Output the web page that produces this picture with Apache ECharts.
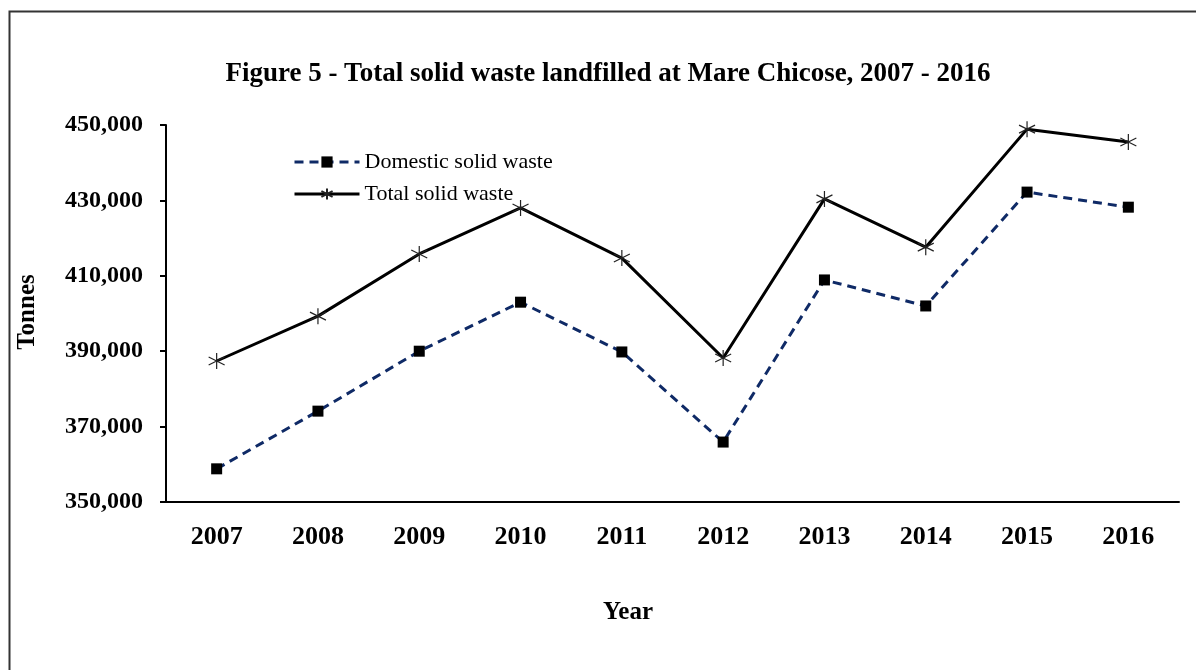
<!DOCTYPE html>
<html>
<head>
<meta charset="utf-8">
<title>Figure 5 - Total solid waste landfilled at Mare Chicose</title>
<script src="https://cdn.jsdelivr.net/npm/echarts@6/dist/echarts.min.js"></script>
<style>
    html, body { margin: 0; padding: 0; background: #fff; }
    #main-chart { width: 1196px; height: 670px; }
</style>
</head>
<body>
<div id="main-chart"></div>
<script>
// Data
const years = ['2007', '2008', '2009', '2010', '2011', '2012', '2013', '2014', '2015', '2016'];
const domesticWaste = [358800, 374100, 390000, 403000, 389800, 365900, 408900, 402000, 432200, 428200];
const totalWaste = [387400, 399300, 415800, 428000, 414700, 388200, 430400, 417600, 448900, 445500];
const yTicks = [350000, 370000, 390000, 410000, 430000, 450000];

const serif = '"Liberation Serif", "DejaVu Serif", serif';
// six-armed asterisk marker
const starPath = 'path://M0,-10L0,10M-8.66,-5L8.66,5M-8.66,5L8.66,-5';

const chartDom = document.getElementById('main-chart');
const myChart = echarts.init(chartDom);

const option = {
    backgroundColor: '#fff',
    animation: false,
    title: {
        text: 'Figure 5 - Total solid waste landfilled at Mare Chicose, 2007 - 2016',
        left: 603,
        top: 56,
        textAlign: 'center',
        textStyle: { fontFamily: serif, fontWeight: 'bold', fontSize: 27, color: '#000' }
    },
    legend: {
        orient: 'vertical',
        left: 288,
        top: 146,
        itemWidth: 65,
        itemHeight: 14,
        itemGap: 10,
        lineStyle: { width: 3 },
        textStyle: { fontFamily: serif, fontSize: 22, color: '#000' },
        data: ['Domestic solid waste', 'Total solid waste']
    },
    grid: { left: 166, right: 17, top: 125, bottom: 168, containLabel: false },
    xAxis: {
        type: 'category',
        data: years,
        boundaryGap: true,
        axisLine: { lineStyle: { color: '#000', width: 2 } },
        axisTick: { alignWithLabel: true, length: 5, lineStyle: { color: '#000', width: 2 } },
        axisLabel: { margin: 22, fontFamily: serif, fontWeight: 'bold', fontSize: 26, color: '#000' }
    },
    yAxis: {
        type: 'value',
        min: 350000,
        max: 450000,
        interval: 10000,
        splitLine: { show: false },
        axisLine: { show: true, lineStyle: { color: '#000', width: 2 } },
        axisTick: { show: true, length: 6, customValues: yTicks, lineStyle: { color: '#000', width: 2 } },
        axisLabel: {
            customValues: yTicks,
            margin: 23,
            fontFamily: serif,
            fontWeight: 'bold',
            fontSize: 24,
            color: '#000',
            formatter: v => v.toLocaleString('en-US')
        }
    },
    graphic: [
        {
            type: 'rect',
            shape: { x: 9.5, y: 11.5, width: 1400, height: 900 },
            style: { fill: 'none', stroke: '#333', lineWidth: 2 },
            silent: true
        },
        {
            type: 'text',
            x: 28,
            y: 312,
            rotation: Math.PI / 2,
            style: {
                text: 'Tonnes', fontFamily: serif, fontWeight: 'bold', fontSize: 25,
                fill: '#000', align: 'center', verticalAlign: 'middle'
            }
        },
        {
            type: 'text',
            x: 628,
            y: 613,
            style: {
                text: 'Year', fontFamily: serif, fontWeight: 'bold', fontSize: 25,
                fill: '#000', align: 'center', verticalAlign: 'middle'
            }
        }
    ],
    series: [
        {
            name: 'Domestic solid waste',
            type: 'line',
            data: domesticWaste,
            symbol: 'rect',
            symbolSize: 11,
            itemStyle: { color: '#000' },
            lineStyle: { color: '#0F2A66', width: 3, type: [9, 6] }
        },
        {
            name: 'Total solid waste',
            type: 'line',
            data: totalWaste,
            symbol: starPath,
            symbolSize: 16,
            itemStyle: { color: '#000', borderColor: '#222', borderWidth: 1.2 },
            lineStyle: { color: '#000', width: 3 }
        }
    ]
};

myChart.setOption(option);
</script>
</body>
</html>
